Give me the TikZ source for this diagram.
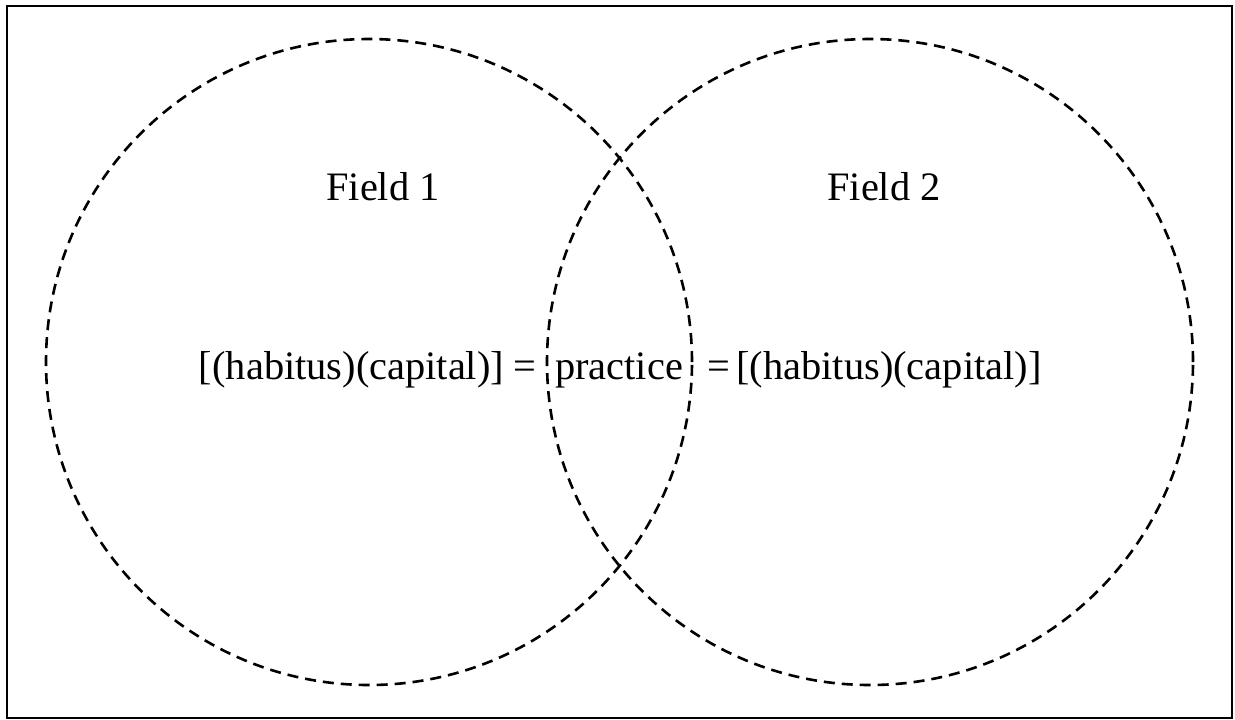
\documentclass[tikz,border=0pt]{standalone}
\usepackage{fontspec}
\setmainfont{Liberation Serif}
\begin{document}
\begin{tikzpicture}[x=0.5pt, y=-0.5pt, field node/.style={circle,draw,dash pattern=on 5.5pt off 3.5pt,line width=1.3pt,minimum size=323pt,inner sep=0pt}, text node/.style={inner sep=0pt,anchor=base,font=\fontsize{20.2pt}{24pt}\selectfont}]
\useasboundingbox (0,0) rectangle (1235,719);
\draw[line width=1.2pt] (7,6) rectangle (1232,718);
\node[field node] (f1) at (369,362) {};
\node[field node] (f2) at (870,362) {};
\begin{scope}[every node/.style={text node}]
\node (field1) at (383,200) {Field 1};
\node (field2) at (884,200) {Field 2};
\node (hc1) at (351.5,379) {[(habitus)(capital)]};
\node (eq1) at (525,379) {=};
\node (prac) at (619,379) {practice};
\node (eq2) at (719,379) {=};
\node (hc2) at (889,379) {[(habitus)(capital)]};
\end{scope}
\end{tikzpicture}
\end{document}
